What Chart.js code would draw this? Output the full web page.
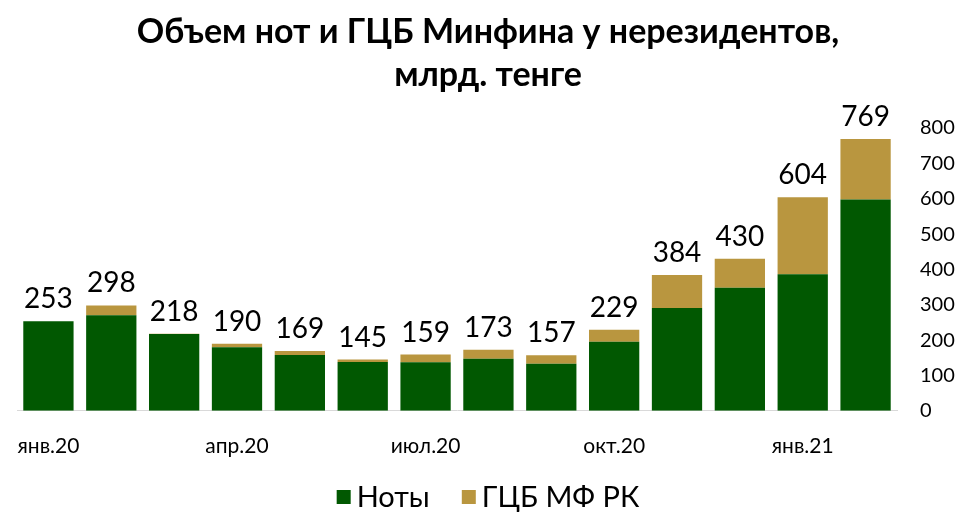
<!DOCTYPE html>
<html>
<head>
<meta charset="utf-8">
<script src="https://cdn.jsdelivr.net/npm/chart.js@4"></script>
<style>
html,body{margin:0;padding:0;background:#fff;}
#wrap{width:959px;height:514px;position:relative;}
</style>
</head>
<body>
<div id="wrap"><canvas id="c" width="959" height="514"></canvas></div>
<script>
const categories = ["янв.20","фев.20","мар.20","апр.20","май.20","июн.20","июл.20","авг.20","сен.20","окт.20","ноя.20","дек.20","янв.21","фев.21"];
const notes = [253, 270, 217, 180, 158, 138, 137, 147, 133, 195, 291, 348, 386, 598];
const gcb   = [0,   28,  1,   10,  11,  7,   22,  26,  24,  34,  93,  82,  218, 171];
const shownTickLabels = ["янв.20","апр.20","июл.20","окт.20","янв.21"];
const yTicks = [0,100,200,300,400,500,600,700,800];
const titleLines = ["Объем нот и ГЦБ Минфина у нерезидентов,", "млрд. тенге"];
const seriesNames = ["Ноты", "ГЦБ МФ РК"];
const seriesColors = ["#015801", "#B9963F"];

const FONT = "Lato, 'Liberation Sans', sans-serif";

const totalLabels = {
  id: 'totalLabels',
  afterDatasetsDraw(chart) {
    const ctx = chart.ctx;
    const y = chart.scales.y;
    const meta = chart.getDatasetMeta(0);
    ctx.save();
    ctx.font = "28px " + FONT;
    ctx.fillStyle = "#000";
    ctx.textAlign = "center";
    ctx.textBaseline = "bottom";
    categories.forEach((c, i) => {
      const total = notes[i] + gcb[i];
      const x = meta.data[i].x;
      ctx.fillText(String(total), x, y.getPixelForValue(total) - 8);
    });
    ctx.restore();
  }
};

const bottomLegend = {
  id: 'bottomLegend',
  afterDraw(chart) {
    const ctx = chart.ctx;
    ctx.save();
    ctx.font = "29px " + FONT;
    ctx.textBaseline = "middle";
    ctx.textAlign = "left";
    const box = 14, gapText = 6, gapItem = 32;
    const widths = seriesNames.map(n => ctx.measureText(n).width);
    let total = 0;
    widths.forEach((w, i) => { total += box + gapText + w + (i < widths.length - 1 ? gapItem : 0); });
    let x = 488 - total / 2;
    const cy = 497;
    seriesNames.forEach((n, i) => {
      ctx.fillStyle = seriesColors[i];
      ctx.fillRect(x, cy - box / 2, box, box);
      x += box + gapText;
      ctx.fillStyle = "#000";
      ctx.fillText(n, x, cy + 1);
      x += widths[i] + gapItem;
    });
    ctx.restore();
  }
};

new Chart(document.getElementById('c'), {
  type: 'bar',
  data: {
    labels: categories,
    datasets: [
      { label: seriesNames[0], data: notes, backgroundColor: seriesColors[0], stack: 's' },
      { label: seriesNames[1], data: gcb, backgroundColor: seriesColors[1], stack: 's' }
    ]
  },
  options: {
    responsive: false,
    animation: false,
    layout: { padding: { left: 17, right: 0, top: 0, bottom: 40 } },
    datasets: { bar: { categoryPercentage: 1.0, barPercentage: 0.8 } },
    plugins: {
      title: {
        display: true,
        text: titleLines,
        color: '#000',
        font: { family: FONT, size: 34, weight: 'bold', lineHeight: 1.265 },
        padding: { top: 11, bottom: 31 }
      },
      legend: { display: false },
      tooltip: { enabled: false }
    },
    scales: {
      x: {
        stacked: true,
        grid: { display: false },
        border: { display: true, color: '#d9d9d9', width: 1 },
        ticks: {
          autoSkip: false, maxRotation: 0, color: '#000',
          font: { family: FONT, size: 21 }, padding: 15,
          callback: function(v, i) { const l = categories[i]; return shownTickLabels.includes(l) ? l : ''; }
        }
      },
      y: {
        stacked: true,
        position: 'right',
        min: 0, max: 800,
        grid: { display: false },
        border: { display: false },
        afterBuildTicks: (s) => { s.ticks = yTicks.map(v => ({ value: v })); },
        afterFit: (s) => { s.width = 62; },
        ticks: { color: '#000', font: { family: FONT, size: 20 }, padding: 15 }
      }
    }
  },
  plugins: [totalLabels, bottomLegend]
});
</script>
</body>
</html>
